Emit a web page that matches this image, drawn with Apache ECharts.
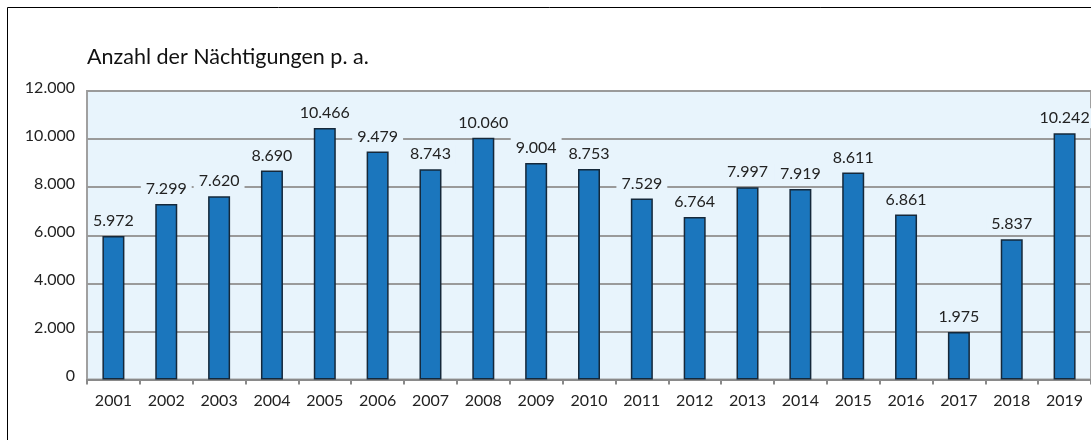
<!DOCTYPE html>
<html>
<head>
<meta charset="utf-8">
<script src="https://cdn.jsdelivr.net/npm/echarts@6/dist/echarts.min.js"></script>
<style>
  html, body { margin: 0; padding: 0; background: #ffffff; }
  #chart { width: 1091px; height: 440px; }
</style>
</head>
<body>
<div id="chart"></div>
<script>
const titleText = 'Anzahl der Nächtigungen p. a.';
const years = ['2001','2002','2003','2004','2005','2006','2007','2008','2009','2010','2011','2012','2013','2014','2015','2016','2017','2018','2019'];
const nights = [5972, 7299, 7620, 8690, 10466, 9479, 8743, 10060, 9004, 8753, 7529, 6764, 7997, 7919, 8611, 6861, 1975, 5837, 10242];
const yMin = 0;
const yMax = 12000;
const yStep = 2000;

function fmt(v) {
  const s = String(Math.round(v));
  return s.replace(/\B(?=(\d{3})+(?!\d))/g, '.');
}

const FONT = 'Lato';
const chart = echarts.init(document.getElementById('chart'), null, { renderer: 'canvas' });
chart.setOption({
  animation: false,
  backgroundColor: '#ffffff',
  title: {
    text: titleText,
    left: 82,
    top: 41,
    textStyle: { fontFamily: FONT, fontSize: 21.5, fontWeight: 'normal', color: '#111111' }
  },
  graphic: [{
    type: 'rect',
    shape: { x: 7.5, y: 7.5, width: 1200, height: 600 },
    style: { fill: 'none', stroke: '#000000', lineWidth: 1 },
    z: 100
  }],
  grid: {
    left: 87, right: 0, top: 91, bottom: 60.5,
    show: true,
    backgroundColor: '#e8f4fc',
    borderColor: '#a0a0a0',
    borderWidth: 2
  },
  xAxis: {
    type: 'category',
    data: years,
    boundaryGap: true,
    axisLine: { lineStyle: { color: '#8a8a8a', width: 2 } },
    axisTick: { show: true, alignWithLabel: false, length: 5, lineStyle: { color: '#8a8a8a', width: 2 } },
    axisLabel: { fontFamily: FONT, fontSize: 16, color: '#222222', margin: 13 }
  },
  yAxis: {
    type: 'value',
    min: yMin, max: yMax, interval: yStep,
    axisLine: { show: false },
    axisTick: { show: false },
    splitLine: { lineStyle: { color: '#9a9a9a', width: 2 } },
    axisLabel: {
      fontFamily: FONT, fontSize: 16, color: '#222222', margin: 12,
      verticalAlign: 'bottom',
      lineHeight: 7,
      formatter: v => fmt(v)
    }
  },
  series: [{
    type: 'bar',
    data: nights,
    barWidth: 22,
    itemStyle: { color: '#1b76bd', borderColor: '#15283a', borderWidth: 1.5 },
    label: {
      show: true,
      position: 'top',
      distance: 5,
      fontFamily: FONT,
      fontSize: 16,
      color: '#222222',
      backgroundColor: '#e8f4fc',
      padding: [2, 5, 2, 5],
      formatter: p => fmt(p.value)
    }
  }]
});
</script>
</body>
</html>
